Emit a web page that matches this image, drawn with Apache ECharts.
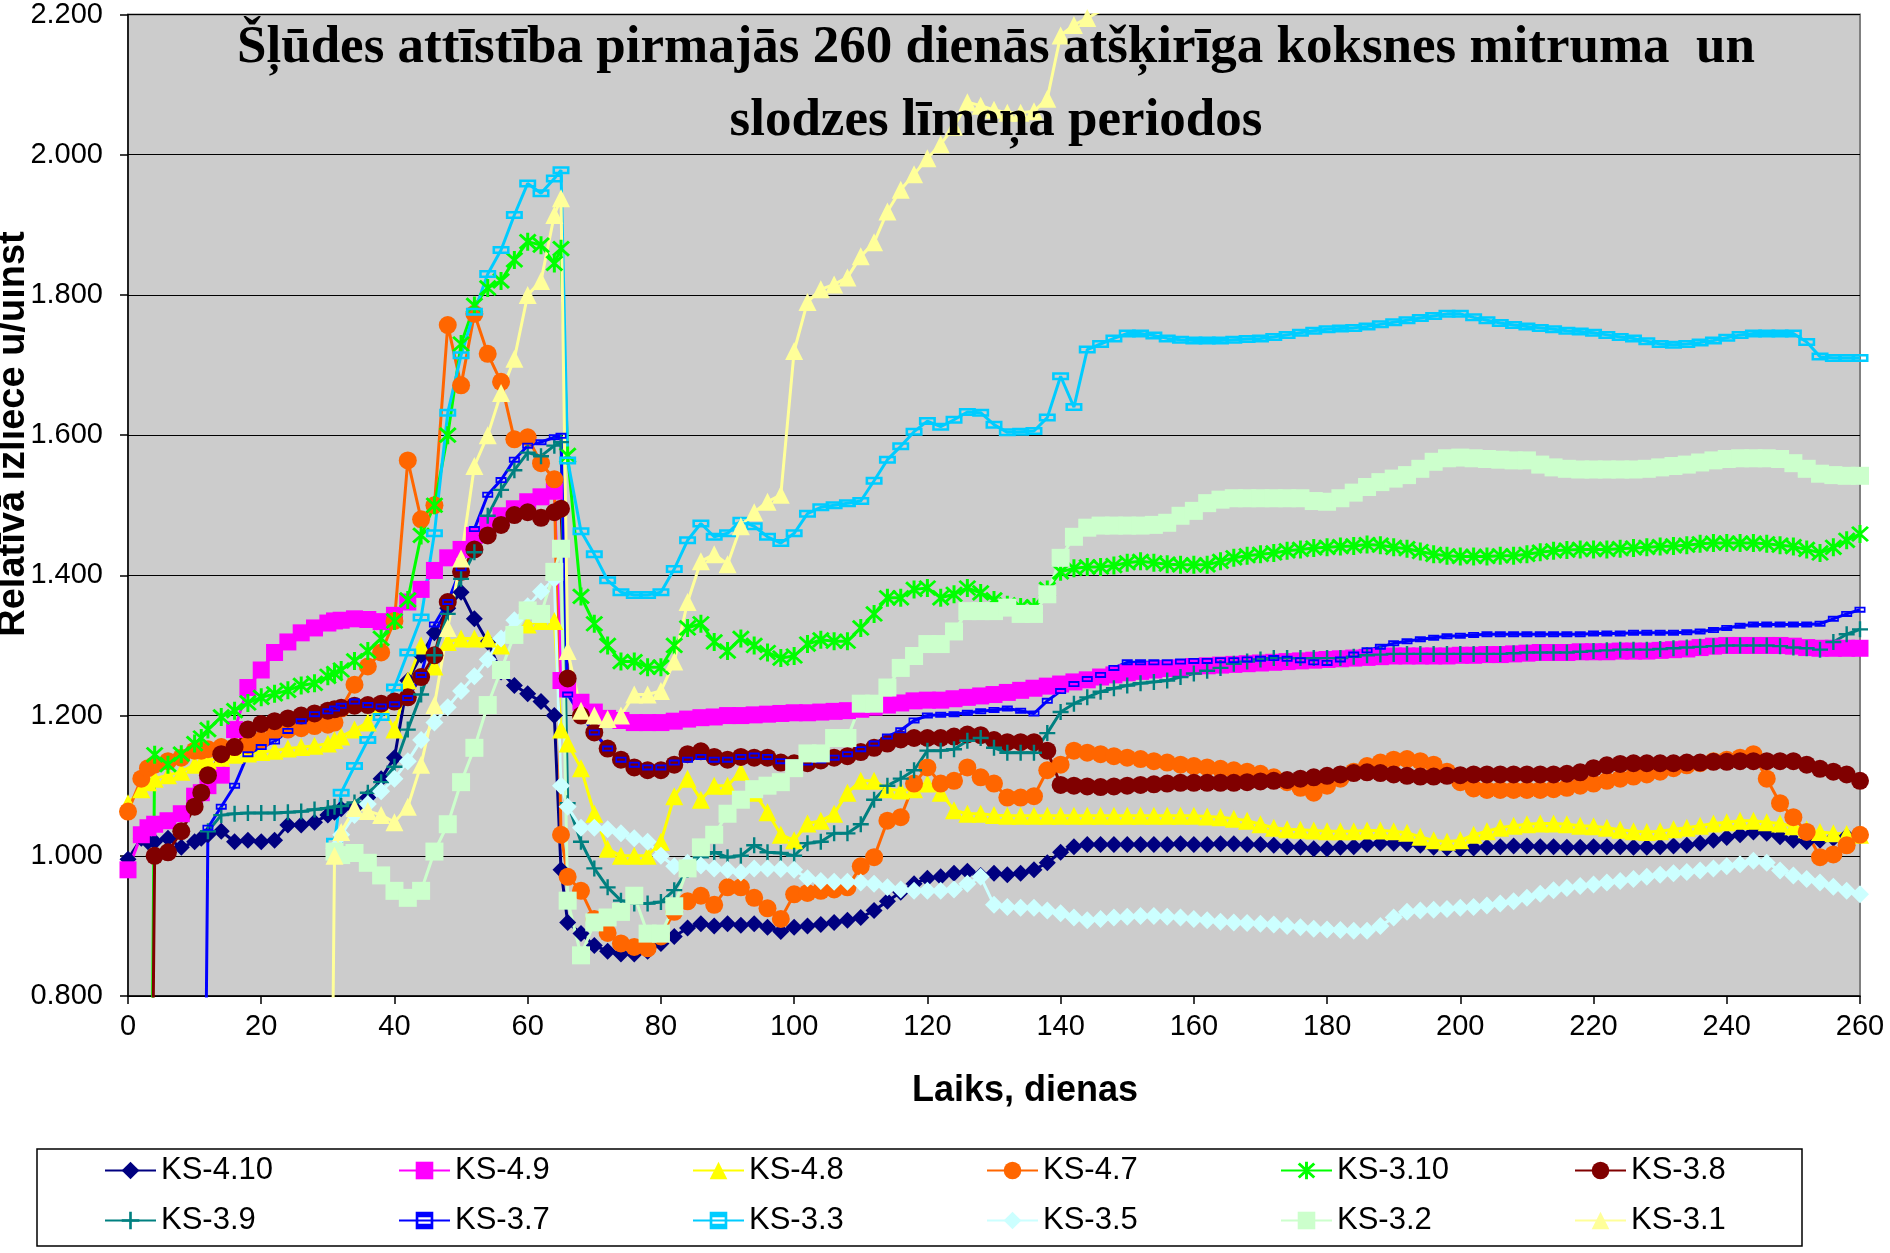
<!DOCTYPE html>
<html><head><meta charset="utf-8">
<script src="https://cdn.jsdelivr.net/npm/echarts@6/dist/echarts.min.js"></script>
<style>html,body{margin:0;padding:0;background:#fff}#c{width:1890px;height:1253px}</style>
</head><body><div id="c"></div>
<script>
const days = [0,2,3,4,6,8,10,11,12,14,16,18,20,22,24,26,28,30,31,32,34,36,38,40,42,44,46,48,50,52,54,56,58,60,62,64,65,66,68,70,72,74,76,78,80,82,84,86,88,90,92,94,96,98,100,102,104,106,108,110,112,114,116,118,120,122,124,126,128,130,132,134,136,138,140,142,144,146,148,150,152,154,156,158,160,162,164,166,168,170,172,174,176,178,180,182,184,186,188,190,192,194,196,198,200,202,204,206,208,210,212,214,216,218,220,222,224,226,228,230,232,234,236,238,240,242,244,246,248,250,252,254,256,258,260];

const ks410 = [0.995,1.025,1.02,1.02,1.025,1.012,1.02,1.025,1.03,
1.035,1.02,1.022,1.02,1.022,1.044,1.044,1.048,1.058,
1.062,1.067,1.068,1.083,1.11,1.14,
1.25,1.286,1.318,1.353,1.376,1.338,1.305,1.262,1.243,1.231,1.22,1.2,
0.98,0.905,0.889,0.872,0.864,0.86,0.86,0.864,0.875,
0.885,0.897,0.903,0.9,0.903,0.901,0.903,0.898,0.892,0.898,
0.9,0.902,0.905,0.908,0.912,0.922,0.935,0.948,0.96,0.968,
0.97,0.975,0.978,0.972,0.975,0.973,0.975,0.98,0.99,1.005,
1.013,1.016,1.016,1.016,1.016,1.016,1.016,1.016,1.017,1.016,
1.016,1.017,1.017,1.016,1.016,1.015,1.013,1.012,1.01,1.01,
1.012,1.013,1.016,1.018,1.018,1.017,1.015,1.012,1.011,1.01,
1.011,1.012,1.013,1.014,1.014,1.013,1.013,1.012,1.012,1.013,
1.013,1.013,1.012,1.012,1.013,1.014,1.015,1.018,1.022,1.026,
1.03,1.034,1.032,1.027,1.022,1.02,1.022,1.025,1.028,1.03];

const ks49 = [0.98,1.03,1.04,1.045,1.05,1.06,1.085,1.09,1.1,
1.115,1.18,1.24,1.265,1.29,1.305,1.318,1.325,1.332,
1.335,1.336,1.338,1.337,1.334,1.343,
1.362,1.38,1.407,1.425,1.437,1.457,1.472,1.485,1.495,1.505,1.512,1.52,
1.25,1.238,1.219,1.205,1.196,1.193,1.19,1.19,1.19,
1.192,1.195,1.197,1.198,1.2,1.2,1.201,1.202,1.203,1.204,
1.204,1.205,1.206,1.207,1.209,1.212,1.215,1.218,1.221,1.222,
1.222,1.224,1.226,1.228,1.23,1.233,1.236,1.239,1.242,1.245,
1.248,1.251,1.255,1.258,1.261,1.263,1.265,1.267,1.268,1.27,
1.271,1.272,1.273,1.274,1.275,1.276,1.277,1.278,1.279,1.28,
1.281,1.282,1.283,1.284,1.285,1.285,1.285,1.285,1.285,1.286,
1.286,1.287,1.287,1.288,1.289,1.29,1.29,1.29,1.291,1.291,
1.291,1.292,1.292,1.292,1.293,1.294,1.295,1.297,1.299,1.3,
1.3,1.3,1.3,1.3,1.299,1.297,1.296,1.296,1.296,1.296];

const ks48 = [1.075,1.095,1.105,1.11,1.115,1.12,1.13,1.133,1.136,
1.14,1.144,1.146,1.148,1.15,1.153,1.155,1.157,1.16,
1.165,1.17,1.18,1.19,1.215,1.18,
1.25,1.3,1.27,1.305,1.31,1.31,1.31,1.3,1.32,1.33,1.335,1.335,
1.18,1.16,1.125,1.06,1.01,1.0,1.0,1.0,1.02,
1.085,1.11,1.08,1.1,1.1,1.12,1.09,1.062,1.03,1.022,
1.046,1.05,1.06,1.09,1.107,1.107,1.095,1.093,1.095,1.103,
1.09,1.065,1.06,1.06,1.058,1.057,1.057,1.057,1.057,1.057,
1.057,1.057,1.057,1.057,1.057,1.057,1.057,1.057,1.057,1.057,
1.056,1.055,1.053,1.05,1.045,1.04,1.038,1.037,1.036,1.035,
1.035,1.035,1.036,1.036,1.035,1.033,1.027,1.022,1.02,1.022,
1.03,1.035,1.04,1.043,1.045,1.046,1.046,1.045,1.043,1.042,
1.04,1.037,1.035,1.034,1.035,1.038,1.04,1.043,1.046,1.048,
1.05,1.05,1.048,1.046,1.042,1.038,1.034,1.032,1.031,1.03];

const ks47 = [1.063,1.11,1.125,1.13,1.135,1.14,1.15,1.15,1.152,
1.155,1.155,1.158,1.165,1.178,1.18,1.182,1.185,1.187,
1.19,1.21,1.244,1.27,1.29,1.335,
1.564,1.48,1.5,1.757,1.671,1.773,1.716,1.676,1.594,1.597,1.56,1.537,
1.03,0.97,0.95,0.91,0.89,0.875,0.87,0.868,0.885,
0.92,0.935,0.943,0.93,0.955,0.955,0.94,0.925,0.91,0.945,
0.947,0.95,0.952,0.955,0.985,0.998,1.05,1.055,1.103,1.126,
1.103,1.107,1.126,1.112,1.103,1.083,1.083,1.085,1.122,1.13,
1.15,1.147,1.145,1.142,1.14,1.138,1.135,1.133,1.13,1.128,
1.126,1.124,1.122,1.12,1.117,1.112,1.105,1.097,1.09,1.1,
1.11,1.12,1.128,1.133,1.137,1.138,1.135,1.13,1.12,1.105,
1.096,1.094,1.094,1.094,1.094,1.094,1.095,1.097,1.1,1.103,
1.107,1.11,1.113,1.116,1.12,1.125,1.129,1.132,1.135,1.137,
1.14,1.145,1.11,1.075,1.055,1.034,0.998,1.002,1.015,1.03];

const ks310 = [null,null,0,1.144,1.13,1.145,1.16,1.168,1.18,
1.198,1.207,1.218,1.226,1.231,1.236,1.243,1.246,1.256,
1.26,1.265,1.278,1.292,1.31,1.335,
1.365,1.457,1.5,1.6,1.73,1.785,1.81,1.82,1.85,1.876,1.871,1.845,
1.866,1.571,1.37,1.331,1.3,1.277,1.277,1.269,1.269,
1.3,1.325,1.331,1.305,1.292,1.31,1.3,1.29,1.282,1.285,
1.302,1.308,1.306,1.306,1.325,1.345,1.368,1.368,1.38,1.382,
1.368,1.373,1.382,1.375,1.365,1.358,1.355,1.355,1.38,1.405,
1.41,1.412,1.412,1.414,1.418,1.42,1.418,1.416,1.415,1.415,
1.415,1.42,1.425,1.428,1.43,1.432,1.435,1.437,1.439,1.44,
1.441,1.442,1.444,1.443,1.44,1.438,1.434,1.43,1.428,1.427,
1.427,1.427,1.428,1.428,1.43,1.433,1.435,1.436,1.437,1.437,
1.437,1.438,1.439,1.44,1.441,1.442,1.443,1.445,1.446,1.446,
1.446,1.446,1.445,1.443,1.441,1.437,1.432,1.44,1.45,1.459];

const ks38 = [null,null,0,1.0,1.005,1.035,1.07,1.09,1.115,
1.145,1.155,1.18,1.188,1.192,1.196,1.2,1.203,1.207,
1.209,1.211,1.214,1.215,1.217,1.22,
1.226,1.255,1.286,1.362,1.405,1.437,1.457,1.472,1.486,1.49,1.482,1.49,
1.495,1.253,1.2,1.176,1.153,1.137,1.126,1.122,1.122,
1.13,1.145,1.149,1.141,1.137,1.141,1.14,1.14,1.133,1.132,
1.132,1.136,1.14,1.142,1.148,1.154,1.16,1.166,1.168,1.168,
1.168,1.17,1.173,1.172,1.165,1.162,1.162,1.162,1.15,1.101,
1.1,1.099,1.098,1.099,1.1,1.101,1.102,1.103,1.104,1.104,
1.104,1.104,1.104,1.105,1.106,1.107,1.108,1.11,1.112,1.114,
1.116,1.118,1.119,1.118,1.116,1.114,1.113,1.113,1.114,1.115,
1.116,1.116,1.116,1.116,1.116,1.116,1.116,1.117,1.119,1.125,
1.129,1.131,1.132,1.132,1.132,1.132,1.133,1.133,1.134,1.134,
1.135,1.135,1.135,1.135,1.135,1.13,1.124,1.12,1.116,1.107];

const ks39 = [null,null,null,null,null,null,null,null,1.035,
1.058,1.06,1.061,1.061,1.061,1.062,1.063,1.066,1.068,
1.07,1.071,1.076,1.09,1.105,1.127,
1.18,1.23,1.286,1.345,1.395,1.433,1.485,1.522,1.55,1.575,1.57,1.585,
1.59,1.075,1.02,0.982,0.955,0.936,0.932,0.932,0.934,
0.951,0.98,0.998,1.005,0.998,1.0,1.015,1.005,1.004,1.0,
1.018,1.02,1.032,1.032,1.045,1.08,1.1,1.11,1.122,1.15,
1.15,1.152,1.164,1.168,1.154,1.147,1.147,1.147,1.175,1.205,
1.217,1.226,1.234,1.239,1.243,1.246,1.248,1.25,1.255,1.26,
1.264,1.268,1.274,1.277,1.28,1.282,1.282,1.282,1.282,1.282,
1.282,1.284,1.286,1.287,1.288,1.288,1.288,1.288,1.288,1.288,
1.288,1.288,1.288,1.289,1.29,1.29,1.29,1.29,1.291,1.292,
1.293,1.294,1.294,1.294,1.295,1.296,1.297,1.298,1.299,1.3,
1.3,1.3,1.3,1.299,1.297,1.296,1.294,1.305,1.316,1.323];

const ks37 = [null,null,null,null,null,null,null,0,1.04,
1.07,1.1,1.145,1.155,1.163,1.178,1.192,1.202,1.206,
1.21,1.214,1.22,1.215,1.213,1.216,
1.225,1.258,1.33,1.362,1.41,1.466,1.515,1.536,1.565,1.585,1.59,1.597,
1.599,1.23,1.2,1.176,1.153,1.137,1.13,1.126,1.126,
1.133,1.137,1.141,1.137,1.137,1.141,1.143,1.141,1.135,1.133,
1.133,1.136,1.14,1.145,1.152,1.16,1.17,1.179,1.193,1.2,
1.201,1.202,1.204,1.206,1.208,1.21,1.207,1.203,1.221,1.235,
1.245,1.252,1.258,1.268,1.276,1.276,1.276,1.276,1.277,1.278,
1.278,1.279,1.279,1.28,1.281,1.282,1.281,1.279,1.276,1.275,
1.28,1.287,1.293,1.298,1.303,1.306,1.309,1.311,1.313,1.314,
1.315,1.316,1.316,1.316,1.316,1.316,1.316,1.316,1.316,1.317,
1.317,1.317,1.318,1.318,1.318,1.318,1.319,1.32,1.322,1.325,
1.328,1.33,1.33,1.33,1.33,1.33,1.331,1.338,1.345,1.351];

const ks33 = [null,null,null,null,null,null,null,null,null,
null,null,null,null,null,null,null,null,null,
1.02,1.09,1.128,1.165,1.198,1.24,
1.29,1.34,1.46,1.632,1.714,1.776,1.83,1.864,1.914,1.959,1.945,1.966,
1.978,1.564,1.463,1.43,1.393,1.376,1.372,1.372,1.376,
1.409,1.45,1.474,1.455,1.46,1.478,1.47,1.455,1.446,1.46,
1.488,1.497,1.5,1.503,1.506,1.535,1.565,1.584,1.605,1.62,
1.612,1.622,1.633,1.632,1.615,1.604,1.605,1.606,1.625,1.684,
1.64,1.722,1.73,1.738,1.745,1.745,1.742,1.738,1.736,1.735,
1.735,1.735,1.736,1.737,1.738,1.74,1.743,1.746,1.749,1.751,
1.752,1.753,1.755,1.758,1.761,1.764,1.767,1.77,1.773,1.773,
1.768,1.764,1.76,1.757,1.755,1.753,1.751,1.749,1.748,1.746,
1.743,1.74,1.738,1.734,1.73,1.729,1.73,1.732,1.735,1.739,
1.743,1.745,1.745,1.745,1.745,1.733,1.712,1.71,1.71,1.71];

const ks35 = [null,null,null,null,null,null,null,null,null,
null,null,null,null,null,null,null,null,null,
1.01,1.03,1.058,1.074,1.092,1.11,
1.135,1.165,1.19,1.212,1.235,1.256,1.28,1.31,1.336,1.356,1.377,1.395,
1.1,1.07,1.04,1.04,1.038,1.032,1.025,1.02,1.0,
0.985,0.99,0.986,0.982,0.98,0.976,0.982,0.982,0.981,0.98,
0.968,0.964,0.963,0.963,0.962,0.96,0.955,0.952,0.95,0.95,
0.95,0.952,0.96,0.97,0.93,0.927,0.926,0.926,0.922,0.918,
0.912,0.908,0.91,0.912,0.913,0.914,0.914,0.913,0.912,0.91,
0.908,0.906,0.905,0.904,0.903,0.902,0.9,0.898,0.896,0.895,
0.894,0.893,0.893,0.9,0.912,0.92,0.922,0.923,0.924,0.926,
0.927,0.929,0.932,0.935,0.94,0.946,0.951,0.954,0.957,0.959,
0.962,0.964,0.967,0.97,0.973,0.975,0.977,0.979,0.982,0.985,
0.988,0.993,0.99,0.979,0.972,0.967,0.962,0.956,0.95,0.945];

const ks32 = [null,null,null,null,null,null,null,null,null,
null,null,null,null,null,null,null,null,null,
1.006,1.001,1.004,0.99,0.972,0.95,
0.94,0.95,1.006,1.045,1.105,1.154,1.215,1.265,1.315,1.35,1.345,1.405,
1.438,0.936,0.858,0.905,0.912,0.92,0.943,0.889,0.889,
0.928,0.982,1.012,1.03,1.06,1.08,1.095,1.1,1.105,1.125,
1.146,1.146,1.168,1.168,1.217,1.217,1.24,1.268,1.285,1.302,
1.302,1.32,1.349,1.349,1.349,1.354,1.345,1.345,1.373,1.425,
1.455,1.468,1.471,1.471,1.471,1.471,1.472,1.475,1.485,1.492,
1.503,1.508,1.51,1.51,1.51,1.51,1.51,1.51,1.506,1.505,
1.51,1.518,1.526,1.533,1.538,1.543,1.552,1.562,1.567,1.568,
1.567,1.566,1.565,1.564,1.564,1.558,1.554,1.552,1.551,1.551,
1.551,1.551,1.551,1.552,1.554,1.556,1.558,1.561,1.564,1.566,
1.567,1.567,1.567,1.566,1.56,1.552,1.545,1.543,1.542,1.542];

const ks31 = [null,null,null,null,null,null,null,null,null,
null,null,null,null,null,null,null,null,0,
1.0,1.034,1.068,1.064,1.058,1.048,
1.07,1.13,1.215,1.325,1.424,1.556,1.6,1.66,1.709,1.8,1.82,1.914,
1.938,1.292,1.207,1.2,1.195,1.2,1.23,1.23,1.235,
1.277,1.362,1.42,1.43,1.416,1.47,1.49,1.505,1.515,1.72,
1.79,1.808,1.815,1.825,1.855,1.875,1.919,1.95,1.972,1.995,
2.015,2.04,2.075,2.07,2.064,2.06,2.06,2.062,2.08,2.17,
2.185,2.195,2.205,2.215];

const seriesNames = ['KS-4.10','KS-4.9','KS-4.8','KS-4.7','KS-3.10','KS-3.8','KS-3.9','KS-3.7','KS-3.3','KS-3.5','KS-3.2','KS-3.1'];
const yTickLabels = ['0.800','1.000','1.200','1.400','1.600','1.800','2.000','2.200'];
const xTickLabels = ['0','20','40','60','80','100','120','140','160','180','200','220','240','260'];

const ASTER = 'path://M8.5,0H11.5V20H8.5Z M1,3.1L3.1,1L19,16.9L16.9,19Z M16.9,1L19,3.1L3.1,19L1,16.9Z';
const PLUS = 'path://M8.5,0H11.5V8.5H20V11.5H11.5V20H8.5V11.5H0V8.5H8.5Z';
const DASH = 'path://M0,0H20V8H0Z M3,2.5V5.5H17V2.5Z';

const styles = [
  ['#000080','diamond',17],
  ['#FF00FF','rect',17],
  ['#FFFF00','triangle',18],
  ['#FF6600','circle',18],
  ['#00FF00',ASTER,18],
  ['#800000','circle',18],
  ['#008080',PLUS,16],
  ['#0000FF',DASH,[11,6]],
  ['#00CCFF',DASH,[17,8]],
  ['#CCFFFF','diamond',18],
  ['#CCFFCC','rect',18],
  ['#FFFF99','triangle',18]
];
const values = [ks410,ks49,ks48,ks47,ks310,ks38,ks39,ks37,ks33,ks35,ks32,ks31];

function pts(v){ const out=[]; v.forEach((y,i)=>{ if(y!==null && i<days.length) out.push([days[i], y]); }); return out; }

const series = seriesNames.map((n,i)=>({
  name:n, type:'line', data:pts(values[i]),
  symbol:styles[i][1], symbolSize:styles[i][2], symbolKeepAspect:false,
  showSymbol:true, showAllSymbol:true, clip:true,
  lineStyle:{color:styles[i][0], width:3},
  itemStyle:{color:styles[i][0]},
  emphasis:{disabled:true}, animation:false
}));

const legends = seriesNames.map((n,i)=>({
  data:[n], left:104 + (i%6)*294, top: i<6 ? 1155 : 1205,
  orient:'horizontal', itemWidth:51, itemHeight:22, padding:0, selectedMode:false,
  textStyle:{fontFamily:'Liberation Sans', fontSize:31, color:'#000'}
}));

const chart = echarts.init(document.getElementById('c'), null, {renderer:'canvas'});
chart.setOption({
  animation:false,
  backgroundColor:'#ffffff',
  grid:{left:128, right:30, top:12, bottom:257, show:true, backgroundColor:'#CCCCCC', borderColor:'#808080', borderWidth:2},
  xAxis:{type:'value', min:0, max:260, interval:20,
    axisLine:{show:true, onZero:false, lineStyle:{color:'#000', width:1.5}},
    axisTick:{show:true, length:8, lineStyle:{color:'#000', width:1.5}},
    axisLabel:{margin:16, fontSize:29, fontFamily:'Liberation Sans', color:'#000',
      formatter:(v)=>{ const k=Math.round(v/20); return xTickLabels[k]!==undefined?xTickLabels[k]:''; }},
    splitLine:{show:false}},
  yAxis:{type:'value', min:0.8, max:2.2, interval:0.2,
    axisLine:{show:true, lineStyle:{color:'#000', width:1.5}},
    axisTick:{show:true, length:8, lineStyle:{color:'#000', width:1.5}},
    axisLabel:{margin:25, fontSize:29, fontFamily:'Liberation Sans', color:'#000',
      formatter:(v)=>{ const k=Math.round((v-0.8)/0.2); return yTickLabels[k]!==undefined?yTickLabels[k]:''; }},
    splitLine:{show:true, lineStyle:{color:'#000', width:1}}},
  legend:legends,
  graphic:[
    {type:'rect', z:0, shape:{x:37, y:1149, width:1765, height:97}, style:{fill:'#fff', stroke:'#000', lineWidth:1.5}},
    {type:'text', z:100, x:996, y:48, style:{text:'Šļūdes attīstība pirmajās 260 dienās atšķirīga koksnes mitruma  un', font:'bold 53px "Liberation Serif"', fill:'#000', textAlign:'center', textVerticalAlign:'middle'}},
    {type:'text', z:100, x:996, y:121, style:{text:'slodzes līmeņa periodos', font:'bold 53px "Liberation Serif"', fill:'#000', textAlign:'center', textVerticalAlign:'middle'}},
    {type:'text', z:100, x:1025, y:1091, style:{text:'Laiks, dienas', font:'bold 36px "Liberation Sans"', fill:'#000', textAlign:'center', textVerticalAlign:'middle'}},
    {type:'text', z:100, x:14, y:434, rotation:Math.PI/2, style:{text:'Relatīvā izliece u/uinst', font:'bold 38px "Liberation Sans"', fill:'#000', textAlign:'center', textVerticalAlign:'middle'}}
  ],
  series:series
});
</script>
</body></html>
